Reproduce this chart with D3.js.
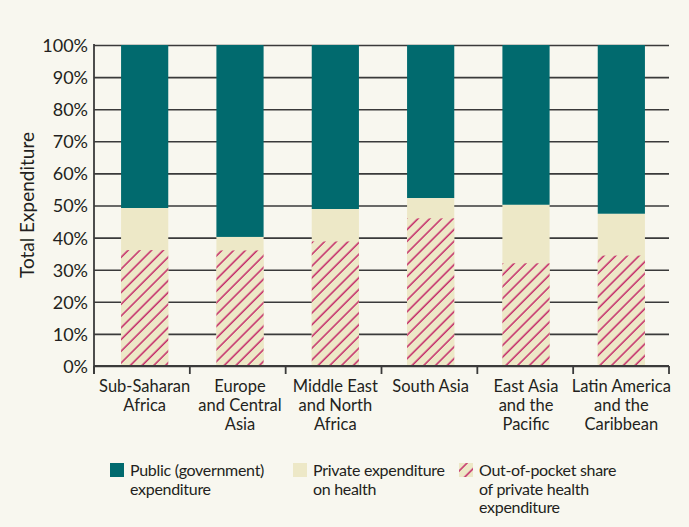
<!DOCTYPE html>
<html><head><meta charset="utf-8">
<script src="https://cdn.jsdelivr.net/npm/d3@7"></script>
<style>
html,body{margin:0;padding:0;background:#f8f7ef;}
svg{display:block;font-family:Lato,sans-serif;}
</style></head>
<body>
<svg id="chart" width="689" height="527"></svg>
<script>
const categories = [["Sub-Saharan","Africa"],["Europe","and Central","Asia"],["Middle East","and North","Africa"],["South Asia"],["East Asia","and the","Pacific"],["Latin America","and the","Caribbean"]];
const privateShare = [49.2, 40.2, 48.9, 52.3, 50.2, 47.4];
const outOfPocket = [36.1, 36.0, 38.8, 46.0, 32.0, 34.4];
const yTicks = [0,10,20,30,40,50,60,70,80,90,100];
const legendItems = ["Public (government)|expenditure","Private expenditure|on health","Out-of-pocket share|of private health|expenditure"];

const colors = {pub:"#016a6e", priv:"#ede8c7", hatch:"#c42a68", text:"#231f20", grid:"#3a3a3a"};
const svg = d3.select("#chart");
const m = {left:94, right:669, top:45, bottom:366};
const keys = categories.map((c,i)=>i);
const x = d3.scaleBand().domain(keys).range([97, 669]).paddingInner(0.505).paddingOuter(0.2525);
const xb = d3.scaleBand().domain(keys).range([m.left, m.right]);
const y = d3.scaleLinear().domain([0,100]).range([m.bottom, m.top]);

const defs = svg.append("defs");
const pat = defs.append("pattern").attr("id","hatch").attr("patternUnits","userSpaceOnUse")
  .attr("width",8.3).attr("height",8.3).attr("patternTransform","rotate(45)");
pat.append("rect").attr("width",8.3).attr("height",8.3).attr("fill",colors.priv);
pat.append("line").attr("x1",2).attr("y1",0).attr("x2",2).attr("y2",8.3)
  .attr("stroke",colors.hatch).attr("stroke-width",1.5);

// gridlines
const yAxis = svg.append("g").attr("transform",`translate(${m.left},0)`)
  .call(d3.axisLeft(y).tickValues(yTicks).tickFormat(d=>d+"%").tickSize(-(m.right-m.left)).tickPadding(6));
yAxis.select(".domain").remove();
yAxis.selectAll(".tick line").attr("stroke",colors.grid).attr("stroke-width",1.6);
yAxis.selectAll(".tick text").attr("fill",colors.text).attr("font-size",18).attr("font-family","Lato,sans-serif").attr("dy","0.36em");

// bars
const g = svg.append("g");
keys.forEach(i=>{
  g.append("rect").attr("x",x(i)).attr("width",x.bandwidth()).attr("y",y(100)).attr("height",y(privateShare[i])-y(100)).attr("fill",colors.pub);
  g.append("rect").attr("x",x(i)).attr("width",x.bandwidth()).attr("y",y(privateShare[i])).attr("height",y(0)-y(privateShare[i])).attr("fill",colors.priv);
  g.append("rect").attr("x",x(i)).attr("width",x.bandwidth()).attr("y",y(outOfPocket[i])).attr("height",y(0)-y(outOfPocket[i])).attr("fill","url(#hatch)");
});

// axis lines
svg.append("line").attr("x1",m.left).attr("x2",m.left).attr("y1",m.top-1).attr("y2",m.bottom+8).attr("stroke",colors.grid).attr("stroke-width",1.8);
svg.append("line").attr("x1",m.left).attr("x2",m.right).attr("y1",m.bottom).attr("y2",m.bottom).attr("stroke",colors.grid).attr("stroke-width",1.8);
const bounds = keys.map(i=>xb(i)).concat([m.right]);
svg.selectAll(".ctick").data(bounds).join("line").attr("x1",d=>d).attr("x2",d=>d)
  .attr("y1",m.bottom).attr("y2",m.bottom+8).attr("stroke",colors.grid).attr("stroke-width",1.8);

// category labels
keys.forEach(i=>{
  const cx = x(i)+x.bandwidth()/2;
  const t = svg.append("text").attr("text-anchor","middle").attr("fill",colors.text).attr("font-size",16.5);
  categories[i].forEach((line,j)=>t.append("tspan").attr("x",cx).attr("y",392+j*19).text(line));
});

// y title
svg.append("text").attr("transform","translate(34,205) rotate(-90)").attr("text-anchor","middle")
  .attr("fill",colors.text).attr("font-size",19).text("Total Expenditure");

// legend
const legX = [110, 293, 459];
legendItems.forEach((item,i)=>{
  const fill = i===0?colors.pub:(i===1?colors.priv:"url(#hatch)");
  svg.append("rect").attr("x",legX[i]).attr("y",463).attr("width",14).attr("height",14).attr("fill",fill);
  const t = svg.append("text").attr("fill",colors.text).attr("font-size",16).attr("letter-spacing",-0.3);
  item.split("|").forEach((line,j)=>t.append("tspan").attr("x",legX[i]+20).attr("y",476+j*18.7).text(line));
});
</script>
</body></html>
